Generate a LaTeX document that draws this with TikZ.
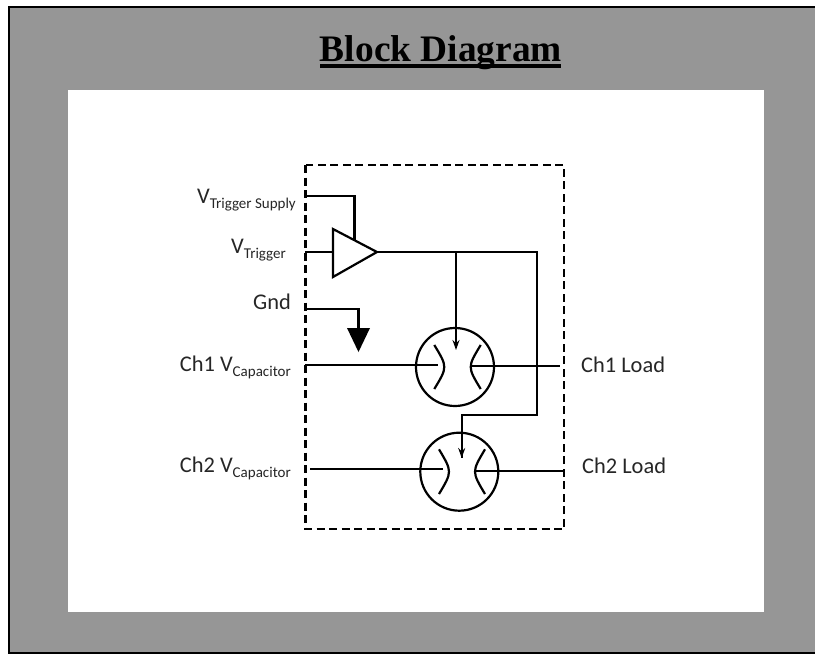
\documentclass[tikz,border=0pt]{standalone}
\usepackage{fontspec}
\setmainfont{Liberation Serif}
\newfontfamily\lblfont{Carlito}
\usepackage{tikz}
\usetikzlibrary{arrows.meta,calc}
\definecolor{slidegray}{HTML}{969696}
\definecolor{lbltext}{HTML}{262626}
\newcommand{\subtxt}[1]{\raisebox{-5pt}{\fontsize{15}{15}\selectfont #1}}
\tikzset{
  wire/.style={line width=2.2pt},
  signal/.style={wire,-{Stealth[length=10pt,width=7pt]}},
  switch/.style={circle,draw,line width=2.2pt,minimum size=78pt,inner sep=0pt},
  lbl/.style={font=\lblfont\fontsize{22.4}{22.4}\selectfont,text=lbltext,inner sep=0pt}
}
\begin{document}
\begin{tikzpicture}[x=1pt,y=-1pt]
\useasboundingbox (0,0) rectangle (815,654);
\fill[white] (0,0) rectangle (815,654);
\fill[slidegray] (9,7) rectangle (815,653);
\draw[line width=2pt] (815,7) -- (9,7) -- (9,653) -- (815,653);
\fill[white] (68,90) rectangle (764,612);
\node[inner sep=0pt,anchor=base,font=\bfseries\fontsize{37.4}{37.4}\selectfont] (title) at (441,61) {Block Diagram};
\draw[line width=4pt] (320,66) -- (561,66);
\draw[line width=2.3pt,dash pattern=on 8pt off 4.5pt] (305.5,165) rectangle (564,529);
\coordinate (supply) at (305,196);
\coordinate (trigIn) at (305,252);
\coordinate (gndIn) at (305,309);
\coordinate (ampA) at (333,229);
\coordinate (ampB) at (333,277);
\coordinate (ampOut) at (377,252);
\coordinate (ampTop) at (354.5,240);
\coordinate (ampIn) at (333,252);
\coordinate (corner) at (537,252);
\coordinate (branch) at (456,252);
\node[switch] (sw1) at (455,367) {};
\node[switch] (sw2) at (459.3,471.7) {};
\coordinate (gndTop) at (358.5,328);
\coordinate (gndL) at (347,328);
\coordinate (gndR) at (370,328);
\coordinate (gndTip) at (358.5,352);
\coordinate (ch1In) at (305,365);
\coordinate (ch1InEnd) at (437.7,365);
\coordinate (ch1Out) at (471.7,366);
\coordinate (ch1OutEnd) at (560,366);
\coordinate (ch2In) at (310,469.3);
\coordinate (ch2InEnd) at (442.7,469.3);
\coordinate (ch2Out) at (476,471);
\coordinate (ch2OutEnd) at (564,471);
\coordinate (tip1) at (456,350);
\coordinate (tip2) at (461.7,458);
\draw[wire] (supply) -| (ampTop);
\draw[wire,line join=miter] (ampA) -- (ampOut) -- (ampB) -- cycle;
\draw[wire] (trigIn) -- (ampIn);
\draw[wire] (ampOut) -- (corner) -- (537,415) -| (tip2);
\draw[signal] (branch) -- (tip1);
\draw[signal] (461.7,415) -- (tip2);
\draw[wire] (gndIn) -| (gndTop);
\fill (gndL) -- (gndR) -- (gndTip) -- cycle;
\draw[wire] (ch1In) -- (ch1InEnd);
\draw[wire] (ch1Out) -- (ch1OutEnd);
\draw[wire] (ch2In) -- (ch2InEnd);
\draw[wire] (ch2Out) -- (ch2OutEnd);
\draw[wire] (434.3,345) .. controls (447.6,367) .. (434.3,389);
\draw[wire] (480.7,345) .. controls (467.4,367) .. (480.7,389);
\draw[wire] (439,449.3) .. controls (452.3,471.7) .. (439,494);
\draw[wire] (485,449.3) .. controls (471.7,471.7) .. (485,494);
\node[lbl,anchor=base east] (lblSupply) at (296,203) {V\subtxt{Trigger Supply}};
\node[lbl,anchor=base east] (lblTrig) at (286,253) {V\subtxt{Trigger}};
\node[lbl,anchor=base east] (lblGnd) at (291,309) {Gnd};
\node[lbl,anchor=base east] (lblCh1) at (291,371) {Ch1 V\subtxt{Capacitor}};
\node[lbl,anchor=base east] (lblCh2) at (291,472) {Ch2 V\subtxt{Capacitor}};
\node[lbl,anchor=base west] (lblLoad1) at (581,372) {Ch1 Load};
\node[lbl,anchor=base west] (lblLoad2) at (582,473) {Ch2 Load};
\end{tikzpicture}
\end{document}
